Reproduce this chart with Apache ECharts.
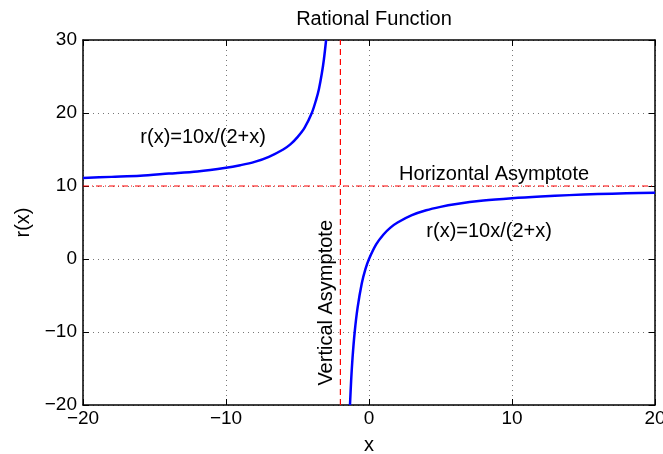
<!DOCTYPE html>
<html>
 <head>
  <meta charset="utf-8" />
  <title>Rational Function</title>
  <script src="https://cdn.jsdelivr.net/npm/echarts@6/dist/echarts.min.js"></script>
 </head>
 <body style="margin:0">
  <div id="main" style="width:663px;height:454px;"></div>
  <script type="text/javascript">
    // points, left branch (x < -2)
    var leftBranch = [
      [-20, 11.1], [-18, 11.25], [-16, 11.4], [-14, 11.7], [-12, 12.0], [-10, 12.5],
      [-9, 12.85], [-8, 13.3], [-7, 14.0], [-6, 15.0], [-5.5, 15.7], [-5, 16.7],
      [-4.5, 18.0], [-4, 20.0], [-3.7, 21.8], [-3.5, 23.3], [-3.3, 25.4], [-3.15, 27.4], [-3, 30]
    ];
    // right branch (x > -2)
    var rightBranch = [
      [-1.33, -20], [-1.25, -16.7], [-1.15, -13.5], [-1, -10], [-0.8, -6.7], [-0.5, -3.3],
      [-0.25, -1.4], [0, 0], [0.5, 2.0], [1, 3.33], [1.5, 4.3], [2, 5.0], [3, 6.0], [4, 6.67],
      [5, 7.14], [6, 7.5], [8, 8.0], [10, 8.33], [12, 8.57], [14, 8.75], [16, 8.89], [18, 9.0], [20, 9.09]
    ];
    var vAsym = [[-2, -20], [-2, 30]];
    var hAsym = [[-20, 10], [20, 10]];
    var xTicks = [-20, -10, 0, 10, 20];
    var yTicks = [-20, -10, 0, 10, 20, 30];
    var notes = [
      { value: [-11.6, 16.6], text: 'r(x)=10x/(2+x)', rotate: 0 },
      { value: [8.4, 3.8], text: 'r(x)=10x/(2+x)', rotate: 0 },
      { value: [8.75, 11.6], text: 'Horizontal Asymptote', rotate: 0 },
      { value: [-2.95, -6.0], text: 'Vertical Asymptote', rotate: 90 }
    ];

    var font = 'Liberation Sans, Arial, sans-serif';
    function fmt(v) { return v < 0 ? '\u2212' + (-v) : String(v); }

    var myChart = echarts.init(document.getElementById('main'));
    var tickStyle = { show: true, inside: true, length: 6, lineStyle: { color: '#000', width: 1 } };

    myChart.setOption({
      backgroundColor: '#fff',
      animation: false,
      title: {
        text: 'Rational Function', left: 369, top: 4, textAlign: 'center',
        textStyle: { fontFamily: font, fontSize: 20, fontWeight: 'normal', color: '#000' }
      },
      grid: { left: 83, right: 8, top: 40, bottom: 49, outerBoundsMode: 'none', containLabel: false },
      xAxis: [{
        type: 'value', min: -20, max: 20, interval: 10,
        name: 'x', nameLocation: 'middle', nameGap: 30,
        nameTextStyle: { fontFamily: font, fontSize: 20, color: '#000' },
        axisLine: { show: true, onZero: false, lineStyle: { color: '#000', width: 1.5 } },
        axisTick: tickStyle,
        axisLabel: { fontFamily: font, fontSize: 19, color: '#000', margin: 4,
          formatter: function (v) { return xTicks.indexOf(v) >= 0 ? fmt(v) : ''; } },
        splitLine: { show: true, lineStyle: { color: '#777', type: [1, 4], width: 1 } }
      }, {
        type: 'value', min: -20, max: 20, interval: 10, position: 'top',
        axisLine: { show: true, onZero: false, lineStyle: { color: '#000', width: 1.5 } },
        axisTick: tickStyle, axisLabel: { show: false }, splitLine: { show: false }
      }],
      yAxis: [{
        type: 'value', min: -20, max: 30, interval: 10,
        name: 'r(x)', nameLocation: 'middle', nameGap: 50, nameRotate: 90,
        nameTextStyle: { fontFamily: font, fontSize: 20, color: '#000' },
        axisLine: { show: true, onZero: false, lineStyle: { color: '#000', width: 1.5 } },
        axisTick: tickStyle,
        axisLabel: { fontFamily: font, fontSize: 19, color: '#000', margin: 6,
          formatter: function (v) { return yTicks.indexOf(v) >= 0 ? fmt(v) : ''; } },
        splitLine: { show: true, lineStyle: { color: '#777', type: [1, 4], width: 1 } }
      }, {
        type: 'value', min: -20, max: 30, interval: 10, position: 'right',
        axisLine: { show: true, onZero: false, lineStyle: { color: '#000', width: 1.5 } },
        axisTick: tickStyle, axisLabel: { show: false }, splitLine: { show: false }
      }],
      series: [{
        type: 'line', data: vAsym, symbol: 'none', z: 3,
        lineStyle: { color: '#ff0000', width: 1.2, type: [6, 4] }
      }, {
        type: 'line', data: hAsym, symbol: 'none', z: 3,
        lineStyle: { color: '#ff0000', width: 1.2, type: [6, 3, 1, 3] }
      }, {
        type: 'line', data: leftBranch, symbol: 'none', smooth: 0.3, z: 4,
        lineStyle: { color: '#0000ff', width: 2.5 }
      }, {
        type: 'line', data: rightBranch, symbol: 'none', smooth: 0.3, z: 4,
        lineStyle: { color: '#0000ff', width: 2.5 }
      }, {
        type: 'scatter', symbolSize: 0, z: 5, silent: true,
        data: notes.map(function (n) {
          return { value: n.value, label: { rotate: n.rotate } };
        }),
        label: {
          show: true, position: 'inside', fontFamily: font, fontSize: 20, color: '#000',
          textBorderWidth: 0, opacity: 1,
          formatter: function (p) { return notes[p.dataIndex].text; }
        }
      }]
    });
  </script>
 </body>
</html>
